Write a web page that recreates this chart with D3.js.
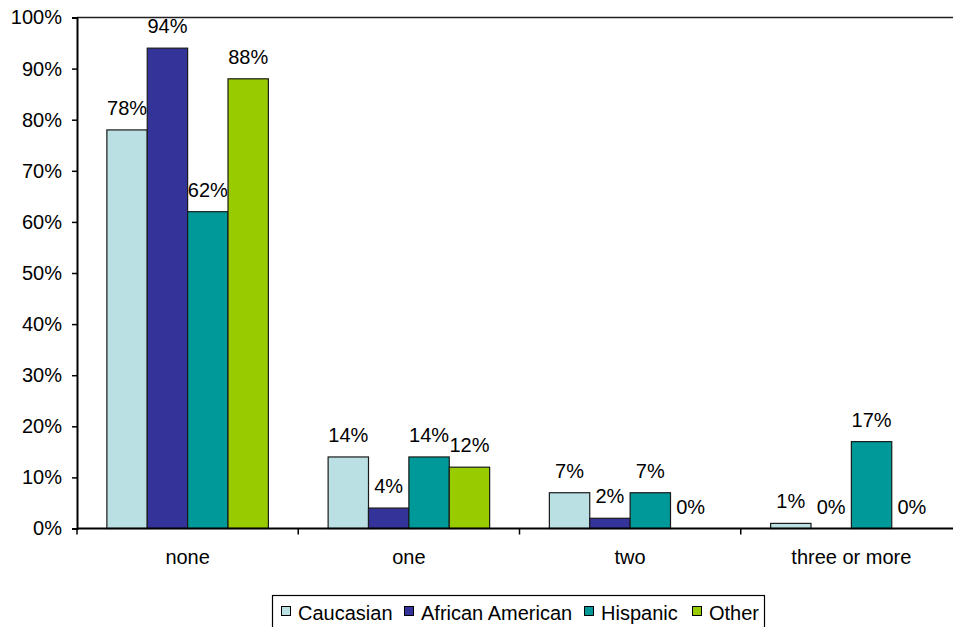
<!DOCTYPE html>
<html>
<head>
<meta charset="utf-8">
<script src="https://cdn.jsdelivr.net/npm/d3@7"></script>
<style>
  html, body { margin: 0; padding: 0; background: #fff; }
  svg { display: block; }
  text { font-family: "Liberation Sans", Arial, sans-serif; fill: #000; }
</style>
</head>
<body>
<svg id="chart" width="953" height="627"></svg>
<script>
const categories = ["none", "one", "two", "three or more"];
const seriesNames = ["Caucasian", "African American", "Hispanic", "Other"];
const seriesColors = ["#BBE0E3", "#333399", "#009999", "#99CC00"];
const caucasian = [78, 14, 7, 1];
const africanAmerican = [94, 4, 2, 0];
const hispanic = [62, 14, 7, 17];
const other = [88, 12, 0, 0];
const yTicks = [0, 10, 20, 30, 40, 50, 60, 70, 80, 90, 100];

const seriesValues = [caucasian, africanAmerican, hispanic, other];

const svg = d3.select("#chart");
const pLeft = 77, pRight = 962, pTop = 17.5, pBottom = 528.5;
const fontSize = 20;

const x = d3.scaleBand().domain(categories).range([pLeft, pRight]).padding(0);
const bw = x.bandwidth();
const xs = d3.scaleBand().domain(seriesNames).range([bw * 0.135, bw * 0.865]).padding(0);
const y = d3.scaleLinear().domain([0, 100]).range([pBottom, pTop]);

// plot area border (top + right)
svg.append("path")
  .attr("d", `M${pLeft},${pTop}H${pRight}V${pBottom}`)
  .attr("fill", "none").attr("stroke", "#222").attr("stroke-width", 1.5);

// data labels (drawn before bars, as in the reference)
const labels = svg.append("g");
seriesValues.forEach((vals, si) => {
  categories.forEach((c, ci) => {
    labels.append("text")
      .attr("x", x(c) + xs(seriesNames[si]) + xs.bandwidth() / 2)
      .attr("y", y(vals[ci]) - 15)
      .attr("text-anchor", "middle")
      .attr("font-size", fontSize)
      .text(vals[ci] + "%");
  });
});

// bars
seriesValues.forEach((vals, si) => {
  svg.append("g").selectAll("rect")
    .data(categories.map((c, ci) => ({ c, v: vals[ci] })))
    .join("rect")
    .attr("x", d => x(d.c) + xs(seriesNames[si]))
    .attr("y", d => y(d.v))
    .attr("width", xs.bandwidth())
    .attr("height", d => pBottom - y(d.v))
    .attr("fill", seriesColors[si])
    .attr("stroke", "#1a1a1a")
    .attr("stroke-width", 1.2)
    .style("display", d => d.v === 0 ? "none" : null);
});

// y axis
const yAxis = d3.axisLeft(y).tickValues(yTicks).tickFormat(d => d + "%").tickSize(5).tickPadding(10);
const gy = svg.append("g").attr("transform", `translate(${pLeft},0)`).call(yAxis);
gy.select(".domain").attr("stroke", "#000").attr("stroke-width", 2);
gy.selectAll(".tick line").attr("stroke", "#000").attr("stroke-width", 1.5);
gy.selectAll(".tick text").attr("font-size", fontSize).attr("font-family", "Liberation Sans, Arial, sans-serif").attr("fill", "#000");

// x axis
const xAxis = d3.axisBottom(x).tickSize(0).tickPadding(0);
const gx = svg.append("g").attr("transform", `translate(0,${pBottom})`).call(xAxis);
gx.select(".domain").remove();
svg.append("line").attr("x1", pLeft).attr("x2", pRight).attr("y1", pBottom).attr("y2", pBottom)
  .attr("stroke", "#000").attr("stroke-width", 2);
gx.selectAll(".tick text").attr("font-size", fontSize).attr("font-family", "Liberation Sans, Arial, sans-serif")
  .attr("fill", "#000").attr("dy", null).attr("y", 35.5);
// category separator ticks
svg.append("g").selectAll("line")
  .data(categories.map(c => x(c)).concat([pRight]))
  .join("line")
  .attr("x1", d => d).attr("x2", d => d)
  .attr("y1", pBottom).attr("y2", pBottom + 6)
  .attr("stroke", "#000").attr("stroke-width", 1.5);

// legend
const legend = svg.append("g");
legend.append("rect").attr("x", 272.5).attr("y", 595.5).attr("width", 492).attr("height", 40)
  .attr("fill", "#fff").attr("stroke", "#000").attr("stroke-width", 1.2);
const legendX = [281, 404, 584, 692];
seriesNames.forEach((n, i) => {
  legend.append("rect").attr("x", legendX[i] + 0.5).attr("y", 606.5).attr("width", 9).attr("height", 9)
    .attr("fill", seriesColors[i]).attr("stroke", "#000").attr("stroke-width", 1);
  legend.append("text").attr("x", legendX[i] + 17).attr("y", 620).attr("font-size", fontSize).text(n);
});
</script>
</body>
</html>
